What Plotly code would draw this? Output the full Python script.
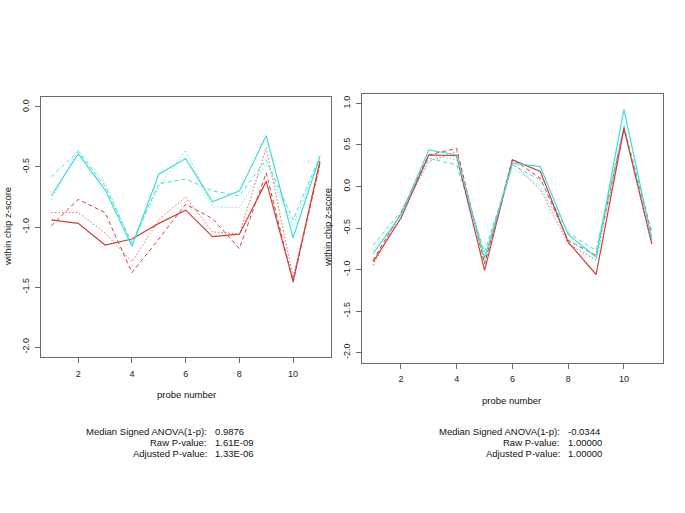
import plotly.graph_objects as go

W, H = 685, 513

probes = list(range(1, 12))

# Left panel series
left_cyan_solid  = [-0.74, -0.39, -0.69, -1.16, -0.56, -0.43, -0.79, -0.70, -0.24, -1.09, -0.41]
left_cyan_dash   = [-0.58, -0.37, -0.66, -1.13, -0.64, -0.60, -0.70, -0.74, -0.44, -0.94, -0.41]
left_cyan_dot    = [-0.77, -0.36, -0.63, -1.15, -0.66, -0.36, -0.83, -0.84, -0.47, -0.99, -0.44]
left_red_solid   = [-0.94, -0.97, -1.15, -1.10, -0.97, -0.86, -1.08, -1.06, -0.62, -1.45, -0.45]
left_red_dash    = [-0.99, -0.77, -0.88, -1.38, -1.10, -0.81, -0.93, -1.18, -0.55, -1.46, -0.47]
left_red_dot     = [-0.88, -0.88, -1.05, -1.29, -0.94, -0.75, -1.04, -1.06, -0.34, -1.42, -0.49]

# Right panel series
right_cyan_solid = [-0.81, -0.34, 0.44, 0.38, -0.87, 0.28, 0.24, -0.58, -0.85, 0.93, -0.64]
right_cyan_dash  = [-0.71, -0.30, 0.34, 0.26, -0.79, 0.26, 0.08, -0.56, -0.77, 0.73, -0.60]
right_cyan_dot   = [-0.77, -0.40, 0.38, 0.32, -0.83, 0.23, 0.00, -0.63, -0.89, 0.69, -0.60]
right_red_solid  = [-0.91, -0.38, 0.38, 0.37, -1.01, 0.32, 0.18, -0.67, -1.06, 0.70, -0.69]
right_red_dash   = [-0.89, -0.32, 0.38, 0.46, -0.93, 0.33, 0.10, -0.65, -0.83, 0.71, -0.56]
right_red_dot    = [-0.95, -0.32, 0.30, 0.42, -0.92, 0.29, -0.04, -0.69, -0.89, 0.69, -0.71]

left_yticks = [0.0, -0.5, -1.0, -1.5, -2.0]
right_yticks = [1.0, 0.5, 0.0, -0.5, -1.0, -1.5, -2.0]
xticks = [2, 4, 6, 8, 10]

left_stats_labels = ["Median Signed ANOVA(1-p):", "Raw P-value:", "Adjusted P-value:"]
left_stats_values = ["0.9876", "1.61E-09", "1.33E-06"]
right_stats_labels = ["Median Signed ANOVA(1-p):", "Raw P-value:", "Adjusted P-value:"]
right_stats_values = ["-0.0344", "1.00000", "1.00000"]

RED = "#D0403A"
RED_LIGHT = "#DA6A64"
CYAN = "#40DDD5"
CYAN_LIGHT = "#70E6E0"
DASH = "4px,3px"
DOT = "1.5px,2px"

FONT = "Liberation Sans, Arial, sans-serif"

fig = go.Figure()

def add(x, y, color, dash, xa, ya, width=1.0):
    fig.add_trace(go.Scatter(x=x, y=y, mode="lines", xaxis=xa, yaxis=ya,
                             line=dict(color=color, dash=dash, width=width),
                             showlegend=False, hoverinfo="skip"))

# left
add(probes, left_red_dot, RED_LIGHT, DOT, "x", "y")
add(probes, left_red_dash, RED, DASH, "x", "y")
add(probes, left_cyan_dot, CYAN_LIGHT, DOT, "x", "y")
add(probes, left_cyan_dash, CYAN, DASH, "x", "y")
add(probes, left_red_solid, RED, "solid", "x", "y", 1.2)
add(probes, left_cyan_solid, CYAN, "solid", "x", "y", 1.2)
# right
add(probes, right_red_dot, RED_LIGHT, DOT, "x2", "y2")
add(probes, right_red_dash, RED, DASH, "x2", "y2")
add(probes, right_cyan_dot, CYAN_LIGHT, DOT, "x2", "y2")
add(probes, right_cyan_dash, CYAN, DASH, "x2", "y2")
add(probes, right_red_solid, RED, "solid", "x2", "y2", 1.2)
add(probes, right_cyan_solid, CYAN, "solid", "x2", "y2", 1.2)

def px(x):
    return x / W

def py(y):
    return 1 - y / H

axis_common = dict(showgrid=False, zeroline=False, showline=True, linecolor="#6a6a6a",
                   linewidth=1, mirror=True, ticks="outside", ticklen=5, tickcolor="#6a6a6a",
                   tickfont=dict(family=FONT, size=9, color="#222"))

fig.update_layout(
    width=W, height=H, margin=dict(l=0, r=0, t=0, b=0),
    paper_bgcolor="white", plot_bgcolor="white",
    font=dict(family=FONT, color="#111"),
    xaxis=dict(domain=[px(40.6), px(330.7)], range=[0.6, 11.4], tickvals=xticks,
               ticktext=[str(v) for v in xticks], anchor="y", ticklabelstandoff=3, **axis_common),
    yaxis=dict(domain=[py(357), py(97)], range=[-2.083, 0.083], tickvals=left_yticks,
               ticktext=[f"{v:.1f}" for v in left_yticks], tickangle=-90,
               anchor="x", ticklabelstandoff=2, **axis_common),
    xaxis2=dict(domain=[px(361.9), px(663)], range=[0.6, 11.4], tickvals=xticks,
                ticktext=[str(v) for v in xticks], anchor="y2", ticklabelstandoff=3, **axis_common),
    yaxis2=dict(domain=[py(362.5), py(93.5)], range=[-2.12, 1.12], tickvals=right_yticks,
                ticktext=[f"{v:.1f}" for v in right_yticks], tickangle=-90,
                anchor="x2", ticklabelstandoff=2, **axis_common),
)

ann = []
TF = dict(family=FONT, size=9.5, color="#111")

def text(x, y, s, xanchor="center", angle=0):
    ann.append(dict(x=px(x), y=py(y), xref="paper", yref="paper", text=s, showarrow=False,
                    xanchor=xanchor, yanchor="middle", font=TF, textangle=angle))

text(186, 394, "probe number")
text(512, 400, "probe number")
text(8, 227, "within chip z-score", angle=-90)
text(327, 228, "within chip z-score", angle=-90)

for i, (lab, val) in enumerate(zip(left_stats_labels, left_stats_values)):
    yy = 431 + i * 11
    text(208.5, yy, lab, xanchor="right")
    text(212.5, yy, val, xanchor="left")
for i, (lab, val) in enumerate(zip(right_stats_labels, right_stats_values)):
    yy = 431 + i * 11
    text(562, yy, lab, xanchor="right")
    text(566, yy, val, xanchor="left")

fig.update_layout(annotations=ann)
fig.write_html("out.html", config={"displayModeBar": False},
               post_script="document.body.style.margin='0';document.body.style.padding='0';")
